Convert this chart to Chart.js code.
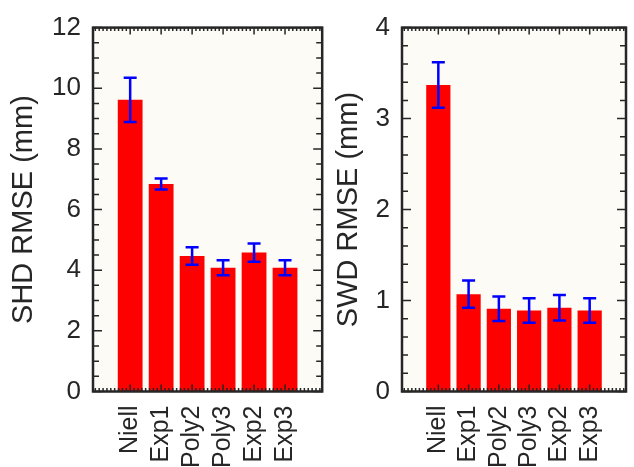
<!DOCTYPE html>
<html><head><meta charset="utf-8">
<script src="https://cdn.jsdelivr.net/npm/chart.js@4"></script>
<style>
html,body{margin:0;padding:0;background:#fff;width:634px;height:467px;overflow:hidden}
canvas{position:absolute;top:0}
#c1{left:0}
#c2{left:330px}
</style></head><body>
<canvas id="c1" width="330" height="467"></canvas>
<canvas id="c2" width="304" height="467"></canvas>
<script>
const categories = ['Niell','Exp1','Poly2','Poly3','Exp2','Exp3'];
const shdMean = [9.62, 6.84, 4.47, 4.08, 4.58, 4.08];
const shdErr  = [0.73, 0.18, 0.29, 0.25, 0.30, 0.25];
const swdMean = [3.37, 1.07, 0.91, 0.89, 0.92, 0.89];
const swdErr  = [0.25, 0.15, 0.135, 0.135, 0.14, 0.135];
const shdTicks = [0, 2, 4, 6, 8, 10, 12];
const swdTicks = [0, 1, 2, 3, 4];

const FONT = "'Liberation Sans', Arial, Helvetica, sans-serif";
const INK = '#262626';
Chart.defaults.font.family = FONT;
Chart.defaults.color = INK;

const framePlugin = {
  id: 'frame',
  beforeDraw(chart) {
    const a = chart.chartArea, c = chart.ctx;
    c.save();
    c.fillStyle = '#fcfbf6';
    c.fillRect(a.left, a.top, a.right - a.left, a.bottom - a.top);
    c.restore();
  },
  afterDatasetsDraw(chart, args, opts) {
    const c = chart.ctx, a = chart.chartArea, x = chart.scales.x, y = chart.scales.y;
    const pts = chart.data.datasets[0].data;
    c.save();
    // error bars
    c.strokeStyle = '#0000ff';
    c.lineWidth = 2.5;
    c.beginPath();
    opts.err.forEach((e, i) => {
      const m = pts[i].y;
      const px = x.getPixelForValue(pts[i].x);
      const yt = y.getPixelForValue(m + e), yb = y.getPixelForValue(m - e);
      c.moveTo(px, yt); c.lineTo(px, yb);
      c.moveTo(px - 6.5, yt); c.lineTo(px + 6.5, yt);
      c.moveTo(px - 6.5, yb); c.lineTo(px + 6.5, yb);
    });
    c.stroke();
    // ticks (inward, mirrored)
    c.strokeStyle = INK;
    c.lineWidth = 1.5;
    c.beginPath();
    const nY = Math.round((y.max - y.min) / opts.yMinor);
    for (let k = 0; k <= nY; k++) {
      const v = y.min + k * opts.yMinor;
      const py = y.getPixelForValue(v);
      const r = v / opts.yMajor;
      const major = Math.abs(r - Math.round(r)) < 1e-6;
      const L = major ? 9 : 6;
      c.moveTo(a.left, py); c.lineTo(a.left + L, py);
      c.moveTo(a.right, py); c.lineTo(a.right - L, py);
    }
    for (let k = Math.ceil(x.min / 0.125); k * 0.125 <= x.max + 1e-9; k++) {
      const v = k * 0.125;
      const px = x.getPixelForValue(v);
      const major = Number.isInteger(v) && v >= 1 && v <= categories.length;
      const L = major ? 7 : 3.5;
      c.moveTo(px, a.bottom); c.lineTo(px, a.bottom - L);
      c.moveTo(px, a.top); c.lineTo(px, a.top + L);
    }
    c.stroke();
    c.lineWidth = 2.5;
    c.strokeRect(a.left, a.top, a.right - a.left, a.bottom - a.top);
    c.restore();
  }
};

function makeChart(id, mean, err, yTicks, yMinor, title, yWidth, padRight, titlePad) {
  const yMajor = yTicks[1] - yTicks[0];
  return new Chart(document.getElementById(id), {
    type: 'bar',
    data: {
      datasets: [{
        data: mean.map((m, i) => ({ x: i + 1, y: m })),
        backgroundColor: '#ff0000',
        borderWidth: 0,
        barPercentage: 0.8,
        categoryPercentage: 1
      }]
    },
    options: {
      responsive: false,
      animation: false,
      devicePixelRatio: 1,
      layout: { padding: { top: 25, right: padRight, left: 0, bottom: 0 } },
      plugins: {
        legend: { display: false },
        tooltip: { enabled: false },
        frame: { err: err, yMinor: yMinor, yMajor: yMajor }
      },
      scales: {
        x: {
          type: 'linear', min: -0.2, max: 7.2, offset: false,
          grid: { display: false, drawTicks: false },
          border: { display: false },
          afterBuildTicks: s => { s.ticks = categories.map((c, i) => ({ value: i + 1 })); },
          ticks: {
            autoSkip: false, minRotation: 90, maxRotation: 90, padding: 14,
            color: INK, font: { size: 25 },
            callback: v => categories[Math.round(v) - 1]
          },
          afterFit: s => { s.height = 75.5; }
        },
        y: {
          min: yTicks[0], max: yTicks[yTicks.length - 1],
          grid: { display: false, drawTicks: false },
          border: { display: false },
          afterBuildTicks: s => { s.ticks = yTicks.map(v => ({ value: v })); },
          ticks: { padding: 12, color: INK, font: { size: 26 } },
          title: { display: true, text: title, color: INK, font: { size: 29 }, padding: { top: titlePad, bottom: 0 } },
          afterFit: s => { s.width = yWidth; }
        }
      }
    },
    plugins: [framePlugin]
  });
}

makeChart('c1', shdMean, shdErr, shdTicks, 0.5, 'SHD RMSE (mm)', 93, 6, 7);
makeChart('c2', swdMean, swdErr, swdTicks, 0.2, 'SWD RMSE (mm)', 72, 2, 2);
</script>
</body></html>
